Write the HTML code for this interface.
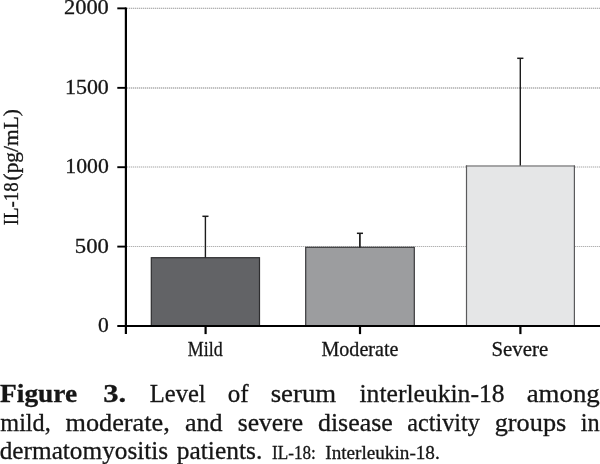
<!DOCTYPE html>
<html><head><meta charset="utf-8">
<style>
html,body{margin:0;padding:0;background:#fff;}
body{width:600px;height:464px;overflow:hidden;position:relative;}
svg{position:absolute;left:0;top:0;display:block;will-change:transform;}
text{font-family:"Liberation Serif",serif;fill:#161616;stroke:#161616;stroke-width:0.3px;}
</style></head><body>
<svg width="600" height="464" viewBox="0 0 600 464">
<rect x="0" y="0" width="600" height="464" fill="#ffffff"/>
<g stroke="#e6e6e6" stroke-width="1.100">
<line x1="127" y1="8.400" x2="600" y2="8.400"/>
<line x1="127" y1="88" x2="600" y2="88" stroke-width="1.300"/>
<line x1="127" y1="167" x2="600" y2="167"/>
<line x1="127" y1="246.500" x2="600" y2="246.500"/>
</g>
<g stroke="#b2b2b2" stroke-width="1.100" stroke-dasharray="1,1">
<line x1="127" y1="8.400" x2="600" y2="8.400"/>
<line x1="127" y1="88" x2="600" y2="88" stroke-width="1.300"/>
<line x1="127" y1="167" x2="600" y2="167"/>
<line x1="127" y1="246.500" x2="600" y2="246.500"/>
</g>
<rect x="151.300" y="257.700" width="108.200" height="68" fill="#626366" stroke="#2e2e30" stroke-width="1.200"/>
<rect x="305.700" y="247.300" width="108.600" height="78.300" fill="#9c9d9f" stroke="#3a3a3c" stroke-width="1.200"/>
<rect x="466" y="165.500" width="109" height="160.500" fill="#e5e6e7"/>
<line x1="465.900" y1="166.100" x2="575" y2="166.100" stroke="#8c8c8e" stroke-width="1.500"/>
<line x1="466.500" y1="165.400" x2="466.500" y2="326" stroke="#5a5a5c" stroke-width="1.200"/>
<line x1="574.400" y1="165.400" x2="574.400" y2="326" stroke="#5a5a5c" stroke-width="1.200"/>
<g stroke="#1c1c1c" stroke-width="1.400">
<line x1="205.400" y1="216" x2="205.400" y2="257.500"/><line x1="202.400" y1="216.300" x2="208.500" y2="216.300" stroke-width="1.500"/>
<line x1="359.900" y1="233" x2="359.900" y2="247.500" stroke-width="1.700"/><line x1="356.900" y1="233.300" x2="363" y2="233.300" stroke-width="1.500"/>
<line x1="520.300" y1="58" x2="520.300" y2="165.500"/><line x1="517.200" y1="58.300" x2="523.400" y2="58.300" stroke-width="1.500"/>
</g>
<g stroke="#000" stroke-width="2.200">
<line x1="125.900" y1="7.400" x2="125.900" y2="334.100"/>
<line x1="117.300" y1="326" x2="600" y2="326"/>
<line x1="117.300" y1="8.350" x2="126" y2="8.350" stroke-width="1.900"/>
<line x1="117.300" y1="87.850" x2="126" y2="87.850" stroke-width="1.900"/>
<line x1="117.300" y1="167.200" x2="126" y2="167.200" stroke-width="1.900"/>
<line x1="117.300" y1="246.600" x2="126" y2="246.600" stroke-width="1.900"/>
<line x1="205.600" y1="326" x2="205.600" y2="334.100"/>
<line x1="360" y1="326" x2="360" y2="334.100"/>
<line x1="520.400" y1="326" x2="520.400" y2="334.100"/>
</g>
<text transform="translate(0.03,402.20) scale(1.0964,1)" font-size="25" font-weight="bold">Figure</text>
<text transform="translate(103.18,402.20) scale(1.2235,1)" font-size="25" font-weight="bold">3.</text>
<text transform="translate(149.71,402.20) scale(0.9839,1)" font-size="25">Level</text>
<text transform="translate(227.75,402.20) scale(1.0000,1)" font-size="25">of</text>
<text transform="translate(270.68,402.20) scale(1.0711,1)" font-size="25">serum</text>
<text transform="translate(359.49,402.20) scale(1.0250,1)" font-size="25">interleukin-18</text>
<text transform="translate(526.69,402.20) scale(1.0746,1)" font-size="25">among</text>
<text transform="translate(0.32,430.70) scale(0.9680,1)" font-size="25">mild,</text>
<text transform="translate(65.47,430.70) scale(1.0514,1)" font-size="25">moderate,</text>
<text transform="translate(184.97,430.70) scale(1.0426,1)" font-size="25">and</text>
<text transform="translate(237.73,430.70) scale(1.0241,1)" font-size="25">severe</text>
<text transform="translate(317.97,430.70) scale(1.0353,1)" font-size="25">disease</text>
<text transform="translate(407.27,430.70) scale(0.9697,1)" font-size="25">activity</text>
<text transform="translate(494.70,430.70) scale(1.0528,1)" font-size="25">groups</text>
<text transform="translate(580.76,430.70) scale(0.9733,1)" font-size="25">in</text>
<text transform="translate(-0.26,459.30) scale(1.0106,1)" font-size="25">dermatomyositis</text>
<text transform="translate(176.75,459.30) scale(1.0182,1)" font-size="25">patients.</text>
<text transform="translate(272.05,459.10) scale(0.9081,1)" font-size="18.9">IL-18:</text>
<text transform="translate(325.24,459.10) scale(1.0157,1)" font-size="18.9">Interleukin-18.</text>
<text transform="translate(187.86,355.80) scale(0.8877,1)" font-size="20.2">Mild</text>
<text transform="translate(321.50,355.80) scale(0.9941,1)" font-size="20.2">Moderate</text>
<text transform="translate(491.51,355.80) scale(1.0321,1)" font-size="20.2">Severe</text>
<text transform="translate(63.96,14.40) scale(1.1226,1)" font-size="20">2000</text>
<text transform="translate(64.95,94.00) scale(1.0974,1)" font-size="20">1500</text>
<text transform="translate(65.37,173.40) scale(1.0868,1)" font-size="20">1000</text>
<text transform="translate(74.87,252.60) scale(1.1333,1)" font-size="20">500</text>
<text transform="translate(98.06,332.20) scale(1.0778,1)" font-size="20">0</text>
<text transform="translate(18.20,225.17) rotate(-90) scale(0.9416,1)" font-size="20">IL-18</text>
<text transform="translate(18.20,180.50) rotate(-90) scale(1.0713,1)" font-size="20">(pg/mL)</text>
</svg>
</body></html>
